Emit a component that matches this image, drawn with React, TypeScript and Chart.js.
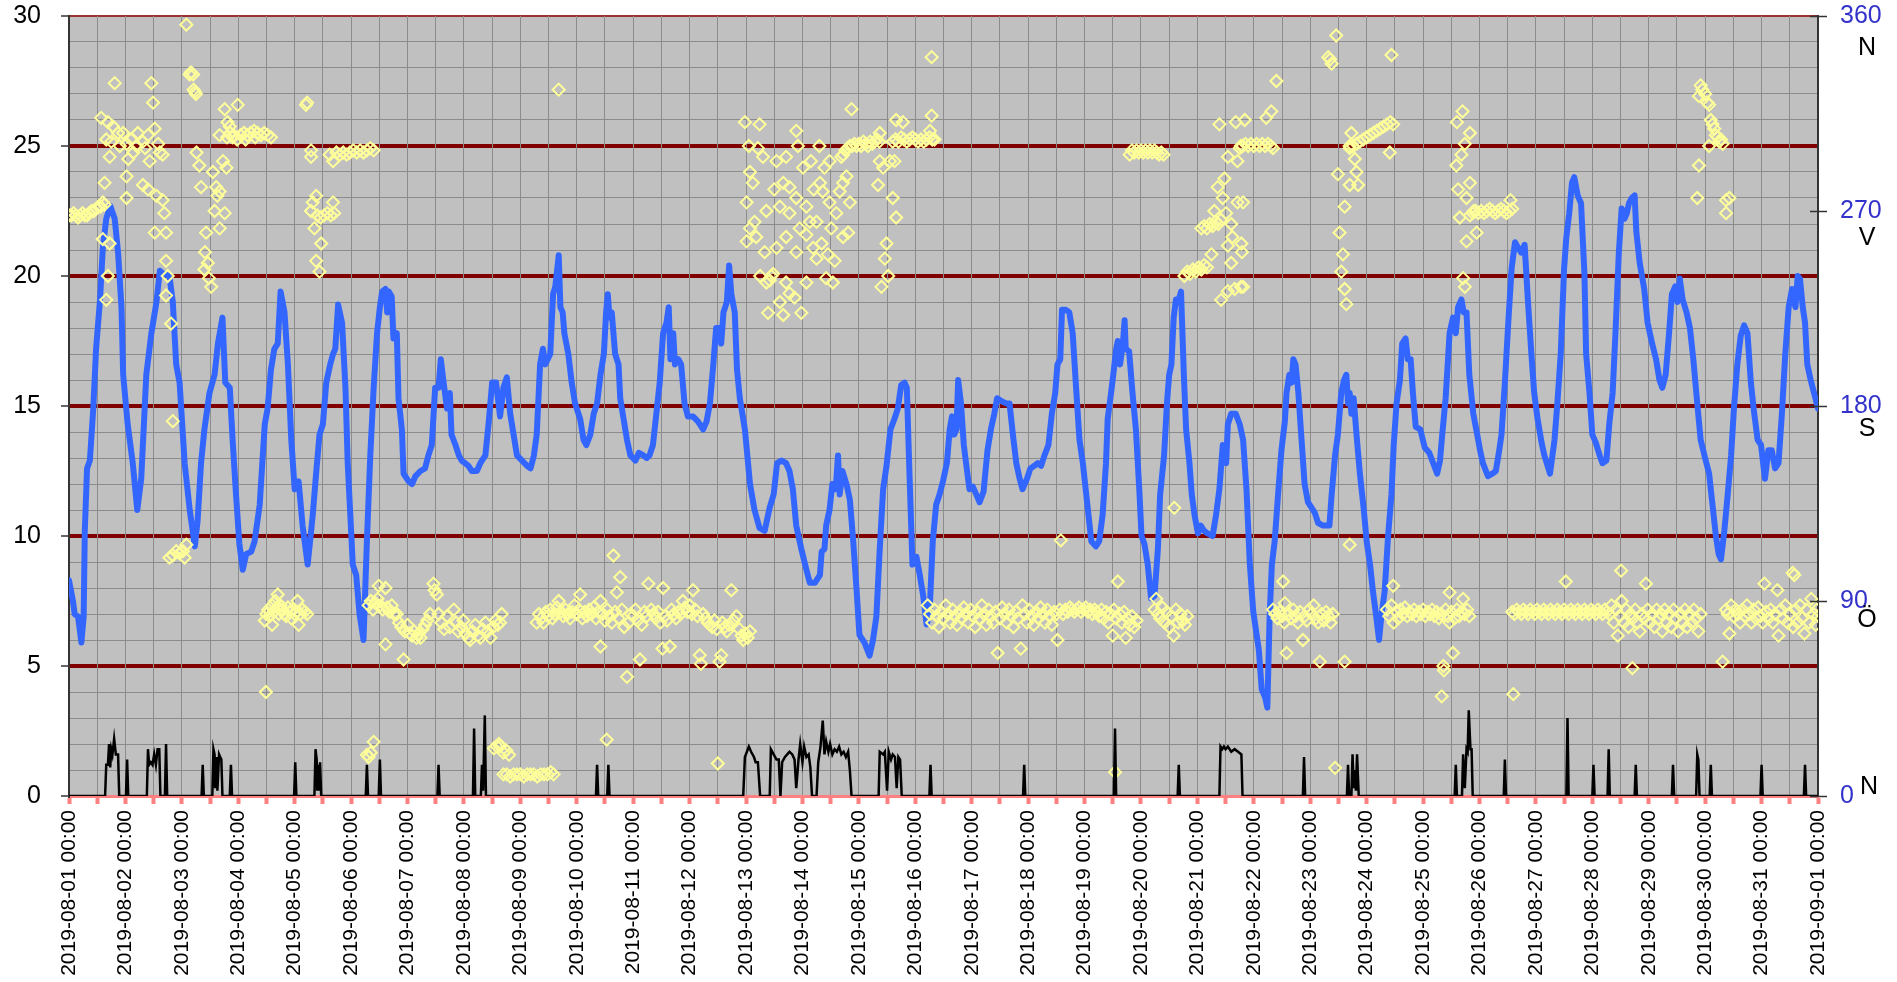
import React, { useEffect, useRef } from 'react';
import { Chart, registerables } from 'chart.js';

Chart.register(...registerables);

// Tick labels
const dayLabels: string[] = [
  '2019-08-01 00:00', '2019-08-02 00:00', '2019-08-03 00:00', '2019-08-04 00:00',
  '2019-08-05 00:00', '2019-08-06 00:00', '2019-08-07 00:00', '2019-08-08 00:00',
  '2019-08-09 00:00', '2019-08-10 00:00', '2019-08-11 00:00', '2019-08-12 00:00',
  '2019-08-13 00:00', '2019-08-14 00:00', '2019-08-15 00:00', '2019-08-16 00:00',
  '2019-08-17 00:00', '2019-08-18 00:00', '2019-08-19 00:00', '2019-08-20 00:00',
  '2019-08-21 00:00', '2019-08-22 00:00', '2019-08-23 00:00', '2019-08-24 00:00',
  '2019-08-25 00:00', '2019-08-26 00:00', '2019-08-27 00:00', '2019-08-28 00:00',
  '2019-08-29 00:00', '2019-08-30 00:00', '2019-08-31 00:00', '2019-09-01 00:00',
];
const directionTicks: number[] = [0, 90, 180, 270, 360];
const compassLetters: string[] = ['N', 'Ö', 'S', 'V', 'N'];

// [day since 2019-08-01 00:00, temperature °C]
const temperature: [number, number][] = [
  [0.00, 8.3], [0.07, 7.5], [0.10, 7.0], [0.16, 6.9], [0.22, 5.9], [0.26, 6.9], [0.28, 10.2], [0.32, 12.6],
  [0.37, 12.9], [0.43, 14.9], [0.48, 17.2], [0.55, 19.1], [0.60, 21.1], [0.66, 22.2], [0.73, 22.7], [0.81, 22.2],
  [0.87, 20.9], [0.93, 18.8], [0.96, 16.2], [1.04, 14.3], [1.13, 12.8], [1.21, 11.0], [1.28, 12.2], [1.37, 16.2],
  [1.46, 17.8], [1.55, 19.0], [1.61, 20.2], [1.66, 20.1], [1.78, 20.0], [1.84, 19.0], [1.90, 16.6], [1.96, 15.9],
  [2.05, 12.8], [2.14, 11.0], [2.23, 9.6], [2.28, 10.6], [2.34, 12.8], [2.40, 14.1], [2.49, 15.5], [2.58, 16.2],
  [2.64, 17.4], [2.72, 18.4], [2.77, 15.9], [2.85, 15.7], [2.90, 13.7], [2.96, 11.6], [3.02, 9.7], [3.08, 8.7],
  [3.14, 9.3], [3.23, 9.4], [3.29, 9.8], [3.38, 11.2], [3.47, 14.3], [3.52, 14.9], [3.58, 16.4], [3.64, 17.2],
  [3.70, 17.4], [3.75, 19.4], [3.82, 18.6], [3.88, 16.6], [3.94, 13.7], [4.00, 11.8], [4.07, 12.1], [4.14, 10.4],
  [4.23, 8.9], [4.32, 10.8], [4.38, 12.4], [4.44, 13.9], [4.50, 14.3], [4.56, 15.9], [4.63, 16.6], [4.68, 17.0],
  [4.72, 17.2], [4.77, 18.9], [4.84, 18.2], [4.90, 15.7], [4.94, 12.8], [5.03, 8.9], [5.09, 8.5], [5.15, 7.0],
  [5.22, 6.0], [5.28, 9.8], [5.34, 13.1], [5.40, 15.7], [5.46, 17.8], [5.51, 18.8], [5.55, 19.4], [5.61, 19.5],
  [5.64, 18.6], [5.67, 19.4], [5.72, 19.2], [5.75, 17.6], [5.81, 17.8], [5.84, 15.3], [5.90, 14.1], [5.93, 12.4],
  [6.02, 12.1], [6.08, 12.0], [6.14, 12.3], [6.23, 12.5], [6.31, 12.6], [6.37, 13.1], [6.43, 13.5], [6.49, 15.7],
  [6.55, 15.7], [6.59, 16.8], [6.64, 15.9], [6.70, 14.9], [6.75, 15.5], [6.78, 13.9], [6.85, 13.5], [6.91, 13.1],
  [6.96, 12.9], [7.02, 12.8], [7.08, 12.7], [7.14, 12.5], [7.23, 12.5], [7.29, 12.8], [7.38, 13.1], [7.44, 14.4],
  [7.50, 15.9], [7.57, 15.9], [7.64, 14.6], [7.70, 15.7], [7.76, 16.1], [7.82, 14.7], [7.88, 13.9], [7.94, 13.1],
  [8.03, 12.9], [8.12, 12.7], [8.18, 12.6], [8.24, 13.1], [8.29, 13.9], [8.35, 16.6], [8.40, 17.2], [8.44, 16.6],
  [8.53, 17.0], [8.58, 19.3], [8.62, 19.6], [8.68, 20.8], [8.71, 18.8], [8.75, 18.6], [8.78, 17.8], [8.85, 17.0],
  [8.91, 15.9], [8.97, 15.1], [9.06, 14.5], [9.12, 13.7], [9.17, 13.5], [9.24, 13.9], [9.30, 14.7], [9.36, 15.1],
  [9.42, 16.2], [9.48, 17.0], [9.52, 18.6], [9.55, 19.3], [9.58, 18.4], [9.62, 18.6], [9.68, 17.0], [9.74, 16.6],
  [9.77, 15.3], [9.83, 14.5], [9.89, 13.7], [9.95, 13.1], [10.04, 12.9], [10.10, 13.2], [10.18, 13.1], [10.24, 13.0],
  [10.29, 13.1], [10.35, 13.5], [10.41, 14.7], [10.47, 15.9], [10.53, 17.8], [10.59, 18.2], [10.63, 18.8], [10.66, 16.8],
  [10.71, 17.8], [10.74, 16.6], [10.80, 16.8], [10.85, 16.6], [10.91, 15.1], [10.97, 14.6], [11.06, 14.6], [11.15, 14.4],
  [11.24, 14.1], [11.30, 14.4], [11.36, 15.1], [11.42, 16.6], [11.47, 18.0], [11.53, 18.0], [11.56, 17.4], [11.60, 18.6],
  [11.66, 19.0], [11.70, 20.4], [11.74, 19.3], [11.80, 18.6], [11.84, 16.4], [11.89, 15.3], [11.98, 14.1], [12.07, 12.0],
  [12.15, 11.0], [12.24, 10.3], [12.33, 10.2], [12.42, 11.1], [12.49, 11.6], [12.55, 12.8], [12.63, 12.9], [12.71, 12.8],
  [12.77, 12.5], [12.83, 11.8], [12.89, 10.4], [12.98, 9.5], [13.07, 8.7], [13.13, 8.2], [13.22, 8.2], [13.31, 8.5],
  [13.34, 9.4], [13.39, 9.5], [13.42, 10.4], [13.48, 11.0], [13.53, 12.0], [13.59, 11.8], [13.63, 13.1], [13.66, 11.6],
  [13.71, 12.5], [13.78, 12.0], [13.84, 11.4], [13.90, 9.8], [13.96, 7.9], [14.01, 6.2], [14.10, 5.9], [14.19, 5.4],
  [14.25, 6.0], [14.31, 6.9], [14.37, 9.5], [14.43, 11.8], [14.49, 12.7], [14.56, 14.1], [14.63, 14.5], [14.69, 14.9],
  [14.75, 15.8], [14.81, 15.9], [14.85, 15.7], [14.90, 12.2], [14.95, 8.9], [15.02, 9.2], [15.08, 8.5], [15.14, 7.7],
  [15.20, 6.6], [15.25, 6.9], [15.31, 9.8], [15.37, 11.2], [15.43, 11.6], [15.49, 12.1], [15.56, 12.8], [15.61, 14.1],
  [15.65, 14.6], [15.69, 13.9], [15.73, 14.1], [15.76, 16.0], [15.81, 15.1], [15.86, 13.5], [15.90, 12.8], [15.96, 11.8],
  [16.02, 11.9], [16.08, 11.6], [16.14, 11.3], [16.21, 11.7], [16.28, 13.3], [16.34, 14.1], [16.40, 14.7], [16.45, 15.3],
  [16.52, 15.2], [16.61, 15.1], [16.67, 15.1], [16.73, 13.9], [16.79, 12.8], [16.85, 12.2], [16.90, 11.8], [16.98, 12.2],
  [17.04, 12.6], [17.11, 12.7], [17.17, 12.8], [17.23, 12.7], [17.29, 13.1], [17.36, 13.5], [17.42, 14.7], [17.48, 15.5],
  [17.52, 16.6], [17.57, 16.8], [17.60, 18.7], [17.67, 18.7], [17.73, 18.6], [17.79, 17.8], [17.85, 15.7], [17.91, 13.7],
  [17.97, 12.8], [18.03, 11.6], [18.12, 9.8], [18.20, 9.6], [18.26, 9.8], [18.32, 10.8], [18.38, 12.8], [18.41, 14.5],
  [18.47, 15.5], [18.52, 16.4], [18.56, 17.2], [18.59, 17.5], [18.63, 16.6], [18.68, 17.4], [18.71, 18.3], [18.73, 17.2],
  [18.79, 17.1], [18.85, 15.5], [18.91, 14.1], [18.97, 11.8], [19.01, 10.0], [19.06, 9.7], [19.12, 8.9], [19.18, 7.6],
  [19.24, 7.7], [19.30, 9.5], [19.34, 11.6], [19.41, 13.1], [19.46, 15.1], [19.50, 16.2], [19.54, 16.6], [19.58, 18.4],
  [19.62, 19.1], [19.66, 19.0], [19.71, 19.4], [19.76, 16.2], [19.80, 14.1], [19.86, 12.8], [19.90, 11.6], [19.95, 10.8],
  [20.01, 10.1], [20.06, 10.4], [20.12, 10.2], [20.18, 10.1], [20.27, 10.0], [20.33, 10.8], [20.39, 11.8], [20.45, 13.5],
  [20.51, 12.8], [20.54, 14.3], [20.60, 14.7], [20.68, 14.7], [20.75, 14.3], [20.81, 13.7], [20.87, 11.8], [20.93, 8.9],
  [20.99, 7.1], [21.05, 6.2], [21.09, 5.6], [21.14, 4.1], [21.20, 3.8], [21.24, 3.4], [21.28, 6.9], [21.32, 8.9],
  [21.37, 9.8], [21.43, 11.6], [21.49, 13.3], [21.55, 14.4], [21.58, 15.5], [21.63, 16.2], [21.67, 15.9], [21.70, 16.8],
  [21.74, 16.6], [21.79, 15.5], [21.84, 13.9], [21.90, 12.0], [21.96, 11.3], [22.02, 11.1], [22.08, 10.9], [22.14, 10.5],
  [22.23, 10.4], [22.34, 10.4], [22.38, 11.6], [22.44, 13.1], [22.49, 13.9], [22.55, 15.5], [22.60, 16.0], [22.64, 16.2],
  [22.67, 15.1], [22.70, 15.5], [22.73, 14.7], [22.77, 15.3], [22.82, 13.9], [22.88, 12.4], [22.95, 11.0], [23.00, 9.8],
  [23.06, 8.9], [23.11, 7.9], [23.17, 6.9], [23.22, 6.0], [23.26, 6.9], [23.32, 7.9], [23.38, 10.0], [23.44, 11.6],
  [23.48, 13.5], [23.53, 15.1], [23.59, 16.0], [23.63, 17.4], [23.69, 17.6], [23.73, 16.8], [23.78, 16.8], [23.82, 15.5],
  [23.87, 14.2], [23.95, 14.1], [24.03, 13.4], [24.11, 13.2], [24.18, 12.8], [24.25, 12.4], [24.30, 12.9], [24.34, 13.9],
  [24.40, 15.3], [24.47, 17.8], [24.53, 18.4], [24.58, 17.8], [24.62, 18.8], [24.68, 19.1], [24.72, 18.6], [24.77, 18.6],
  [24.82, 16.2], [24.89, 14.7], [24.96, 13.9], [25.01, 13.3], [25.06, 12.8], [25.15, 12.3], [25.23, 12.4], [25.29, 12.5],
  [25.35, 13.3], [25.39, 13.9], [25.45, 15.9], [25.51, 18.2], [25.57, 20.3], [25.63, 21.3], [25.68, 21.1], [25.74, 20.9],
  [25.80, 21.2], [25.86, 19.0], [25.92, 17.0], [25.97, 15.5], [26.03, 14.5], [26.10, 13.6], [26.15, 13.1], [26.25, 12.4],
  [26.33, 13.7], [26.38, 15.1], [26.44, 17.0], [26.50, 20.3], [26.54, 21.5], [26.59, 22.4], [26.64, 23.6], [26.68, 23.8],
  [26.74, 23.1], [26.80, 22.8], [26.86, 20.1], [26.89, 17.0], [26.95, 15.5], [27.00, 13.9], [27.06, 13.6], [27.13, 13.1],
  [27.18, 12.8], [27.25, 12.9], [27.30, 14.3], [27.36, 15.5], [27.41, 17.8], [27.47, 20.9], [27.52, 22.6], [27.57, 22.2],
  [27.61, 22.4], [27.65, 22.8], [27.70, 23.0], [27.75, 23.1], [27.78, 21.7], [27.84, 20.5], [27.92, 19.5], [27.98, 18.2],
  [28.06, 17.4], [28.13, 16.8], [28.19, 16.0], [28.24, 15.7], [28.30, 16.2], [28.36, 17.8], [28.41, 19.3], [28.47, 19.6],
  [28.51, 19.0], [28.55, 19.9], [28.60, 19.1], [28.67, 18.6], [28.73, 18.0], [28.79, 16.8], [28.86, 15.1], [28.92, 13.7],
  [29.01, 12.9], [29.07, 12.4], [29.13, 11.2], [29.19, 10.0], [29.24, 9.3], [29.28, 9.1], [29.34, 10.2], [29.40, 11.6],
  [29.46, 13.1], [29.51, 14.9], [29.57, 16.6], [29.63, 17.7], [29.69, 18.1], [29.75, 17.8], [29.81, 15.9], [29.87, 14.7],
  [29.93, 13.7], [29.99, 13.5], [30.06, 12.2], [30.12, 13.3], [30.18, 13.3], [30.24, 12.6], [30.30, 12.8], [30.36, 14.7],
  [30.42, 17.0], [30.48, 18.8], [30.54, 19.5], [30.60, 18.8], [30.64, 20.0], [30.68, 19.9], [30.73, 18.8], [30.77, 18.2],
  [30.81, 16.6], [30.87, 16.0], [30.93, 15.5], [31.00, 14.9],
];

// [day, wind direction in degrees]
const windDirection: [number, number][] = [
  [0.00, 268], [0.04, 268], [0.08, 269], [0.12, 268], [0.16, 267], [0.20, 268], [0.24, 269], [0.28, 268], [0.32, 268],
  [0.36, 269], [0.40, 270], [0.44, 270], [0.48, 271], [0.52, 272], [0.56, 272], [0.60, 274], [0.63, 273],
  [0.57, 313], [0.81, 329], [0.69, 311], [0.78, 309], [0.87, 306], [0.66, 303], [0.72, 295], [0.63, 283], [0.60, 257],
  [0.72, 255], [0.69, 240], [0.66, 229], [0.96, 306], [1.02, 301], [1.05, 294], [1.02, 286], [1.02, 276], [1.10, 303],
  [1.22, 306], [1.31, 302], [1.40, 305], [1.46, 329], [1.49, 320], [1.52, 308], [1.43, 293], [1.31, 282], [1.40, 280],
  [1.55, 277], [1.66, 275], [1.69, 269], [1.52, 260], [1.72, 260], [1.61, 297], [1.66, 296], [1.72, 247], [1.75, 240],
  [1.72, 231], [1.81, 218], [1.84, 173], [1.58, 301], [1.20, 300], [0.90, 300], [0.75, 302], [1.14, 297], [1.35, 299],
  [1.84, 111], [1.90, 113], [1.96, 112], [2.02, 113], [2.05, 110], [2.08, 116], [1.78, 110],
  [2.08, 356], [2.14, 333], [2.16, 334], [2.20, 333], [2.23, 325], [2.25, 324], [2.21, 326],
  [2.26, 297], [2.31, 291], [2.34, 281], [2.43, 260], [2.41, 251], [2.46, 246], [2.52, 235], [2.55, 288], [2.61, 281],
  [2.67, 279], [2.58, 270], [2.67, 262], [2.76, 269], [2.76, 317], [2.99, 319], [2.67, 305], [2.73, 293], [2.79, 290],
  [2.85, 309], [2.90, 304], [2.40, 243], [2.48, 239], [2.63, 277], [2.81, 311],
  [2.80, 304], [2.86, 306], [2.92, 305], [2.98, 303], [3.04, 305], [3.10, 306], [3.16, 305], [3.22, 306], [3.28, 307],
  [3.34, 306], [3.40, 305], [3.46, 306], [3.52, 305], [3.58, 304], [3.13, 303], [3.30, 304],
  [3.47, 81], [3.50, 84], [3.53, 86], [3.56, 83], [3.60, 88], [3.63, 85], [3.66, 90], [3.69, 87], [3.72, 84], [3.75, 88],
  [3.78, 86], [3.82, 84], [3.85, 83], [3.88, 87], [3.91, 85], [3.94, 82], [3.97, 86], [4.00, 84], [4.03, 85], [4.07, 79],
  [4.10, 84], [4.14, 86], [4.18, 85], [4.22, 84], [3.70, 93], [3.60, 79], [4.05, 90], [3.49, 48],
  [4.20, 319], [4.22, 320],
  [4.29, 298], [4.29, 295], [4.32, 274], [4.38, 277], [4.29, 270], [4.47, 255], [4.38, 247], [4.44, 242], [4.68, 274],
  [4.35, 262], [4.40, 268], [4.46, 267], [4.52, 268], [4.58, 269], [4.64, 268], [4.70, 269],
  [4.62, 296], [4.68, 293], [4.74, 297], [4.80, 296], [4.86, 297], [4.92, 296], [4.98, 297], [5.04, 298], [5.10, 297],
  [5.16, 298], [5.22, 297], [5.28, 298], [5.34, 299], [5.40, 298],
  [5.31, 88], [5.35, 90], [5.39, 86], [5.43, 89], [5.47, 91], [5.49, 97], [5.52, 88], [5.56, 86], [5.61, 96], [5.61, 70],
  [5.64, 87], [5.68, 85], [5.72, 88], [5.76, 84], [5.81, 84], [5.85, 80], [5.89, 78], [5.93, 63], [5.95, 76], [6.00, 79],
  [6.04, 75], [6.08, 74], [6.12, 76], [6.16, 73], [6.20, 75], [6.23, 73], [6.27, 77], [6.31, 79], [6.35, 81], [6.40, 84],
  [6.46, 98], [6.48, 95], [6.52, 93], [6.55, 84], [6.60, 80], [6.65, 77], [6.70, 83], [6.75, 78], [6.82, 86], [6.86, 80],
  [6.90, 76], [6.95, 78], [6.99, 81], [7.03, 75], [7.08, 73], [7.11, 72], [7.15, 76], [7.20, 79], [7.25, 74], [7.29, 73],
  [7.33, 77], [7.38, 80], [7.42, 76], [7.47, 73], [7.52, 78], [7.56, 81], [7.60, 79], [7.64, 80], [7.67, 84],
  [5.28, 19], [5.31, 18], [5.35, 20], [5.40, 25],
  [7.53, 22], [7.58, 23], [7.62, 24], [7.64, 23], [7.70, 20], [7.75, 21], [7.80, 19],
  [7.70, 10], [7.76, 10], [7.82, 9], [7.88, 10], [7.94, 10], [8.00, 10], [8.06, 9], [8.12, 10], [8.18, 10], [8.24, 10],
  [8.30, 9], [8.36, 10], [8.42, 10], [8.48, 10], [8.54, 11], [8.59, 10],
  [9.53, 26], [8.68, 326],
  [8.29, 80], [8.33, 84], [8.37, 82], [8.41, 80], [8.45, 85], [8.49, 83], [8.53, 86], [8.57, 82], [8.61, 84], [8.65, 87],
  [8.68, 90], [8.72, 85], [8.76, 83], [8.80, 86], [8.84, 84], [8.88, 82], [8.92, 85], [8.96, 88], [9.00, 84], [9.04, 86],
  [9.06, 93], [9.10, 82], [9.14, 85], [9.18, 83], [9.22, 86], [9.26, 84], [9.30, 87], [9.34, 82], [9.38, 85], [9.42, 90],
  [9.42, 69], [9.46, 84], [9.50, 81], [9.54, 86], [9.58, 83], [9.62, 80], [9.65, 111], [9.68, 85], [9.71, 94], [9.74, 82],
  [9.77, 101], [9.80, 86], [9.84, 78], [9.89, 55], [9.92, 80], [9.96, 84], [10.00, 83], [10.04, 86], [10.08, 81],
  [10.12, 63], [10.15, 79], [10.20, 85], [10.24, 83], [10.27, 98], [10.32, 86], [10.36, 84], [10.40, 82], [10.44, 85],
  [10.48, 80], [10.53, 96], [10.52, 68], [10.56, 83], [10.60, 81], [10.65, 69], [10.68, 86], [10.72, 84], [10.76, 82],
  [10.80, 85], [10.84, 84], [10.88, 90], [10.92, 87], [10.96, 85], [11.00, 88], [11.06, 95], [11.04, 84], [11.10, 86],
  [11.14, 83], [11.18, 65], [11.20, 61], [11.24, 84], [11.28, 82], [11.32, 80], [11.36, 79], [11.40, 78], [11.44, 81],
  [11.48, 77], [11.53, 62], [11.56, 65], [11.58, 80], [11.62, 78], [11.66, 76], [11.70, 79], [11.74, 95], [11.78, 81],
  [11.83, 83], [11.88, 77], [11.92, 74], [11.95, 72], [11.99, 75], [12.03, 73], [12.07, 76],
  [11.50, 15],
  [11.98, 311], [12.24, 310], [12.89, 307], [12.21, 299], [12.30, 295], [12.07, 288], [12.12, 283], [12.01, 274],
  [12.07, 262], [12.01, 256], [12.18, 258], [12.33, 251], [12.36, 237], [12.39, 223], [12.48, 241], [12.54, 253],
  [12.60, 228], [12.66, 222], [12.54, 293], [12.71, 295], [12.66, 283], [12.77, 281], [12.60, 272], [12.77, 269],
  [12.89, 276], [12.71, 258], [12.89, 251], [12.77, 232], [12.71, 237], [12.86, 230], [12.98, 223], [13.07, 237],
  [13.01, 290], [13.07, 272], [13.13, 265], [13.07, 259], [13.19, 253], [13.25, 248], [13.25, 265], [13.34, 255],
  [13.36, 279], [13.31, 283], [13.39, 290], [13.48, 293], [13.42, 239], [13.54, 237], [13.57, 247], [13.51, 262],
  [13.60, 269], [13.66, 279], [13.72, 283], [13.78, 286], [13.84, 274], [13.81, 260], [13.72, 258], [13.69, 295],
  [13.87, 317], [13.48, 274], [12.42, 238], [12.45, 240], [12.92, 300], [13.15, 293], [13.20, 280], [12.50, 280],
  [12.36, 270], [12.15, 265], [12.05, 300], [12.95, 262], [13.30, 300], [13.45, 250], [12.25, 240],
  [13.72, 296], [13.76, 298], [13.80, 299], [13.84, 300], [13.88, 300], [13.92, 301], [13.96, 300], [14.00, 301],
  [14.04, 300], [14.08, 302], [14.12, 301], [14.16, 300], [14.20, 302], [14.24, 301], [14.28, 302], [14.32, 303], [14.36, 302],
  [14.37, 293], [14.34, 282], [14.43, 290], [14.55, 293], [14.49, 255], [14.46, 248], [14.40, 235], [14.52, 240],
  [14.60, 276], [14.66, 267], [14.66, 312], [14.78, 311], [14.37, 306], [14.63, 293],
  [14.60, 302], [14.65, 303], [14.70, 302], [14.75, 304], [14.80, 303], [14.85, 302], [14.90, 303], [14.95, 304],
  [15.00, 303], [15.05, 302], [15.10, 303], [15.15, 302], [15.20, 303], [15.25, 304], [15.30, 303], [15.34, 303],
  [15.29, 341], [15.29, 314], [15.26, 307],
  [15.22, 88], [15.26, 84], [15.30, 80], [15.34, 86], [15.38, 83], [15.42, 78], [15.46, 85], [15.50, 82], [15.54, 88],
  [15.58, 84], [15.62, 80], [15.66, 86], [15.70, 83], [15.74, 79], [15.78, 85], [15.82, 82], [15.86, 87], [15.90, 84],
  [15.94, 80], [15.98, 86], [16.02, 83], [16.06, 78], [16.10, 85], [16.14, 82], [16.18, 88], [16.22, 84], [16.26, 79],
  [16.30, 86], [16.34, 83], [16.38, 80], [16.42, 85], [16.46, 66], [16.50, 82], [16.54, 87], [16.58, 84], [16.62, 80],
  [16.66, 86], [16.70, 83], [16.74, 78], [16.78, 85], [16.82, 82], [16.87, 68], [16.90, 88], [16.94, 84], [16.98, 80],
  [17.02, 86], [17.06, 83], [17.10, 79], [17.14, 85], [17.18, 82], [17.22, 87], [17.26, 84], [17.30, 80], [17.34, 86],
  [17.38, 83], [17.42, 79], [17.46, 85], [17.52, 72], [17.50, 84], [17.58, 118], [17.56, 86], [17.62, 84], [17.66, 86],
  [17.70, 85], [17.74, 87], [17.78, 86], [17.82, 85], [17.86, 86], [17.90, 87], [17.94, 85], [17.98, 86], [18.02, 87],
  [18.06, 85], [18.10, 86], [18.14, 84], [18.18, 86], [18.22, 85], [18.26, 83], [18.30, 86], [18.34, 82], [18.38, 85],
  [18.42, 80], [18.46, 84], [18.50, 74], [18.52, 86], [18.56, 82], [18.59, 99], [18.62, 84], [18.66, 80], [18.70, 85],
  [18.73, 73], [18.76, 82], [18.80, 79], [18.84, 83], [18.88, 78], [18.92, 81],
  [18.80, 296], [18.84, 298], [18.88, 297], [18.92, 298], [18.96, 297], [19.00, 298], [19.04, 297], [19.08, 298],
  [19.12, 297], [19.16, 298], [19.20, 297], [19.24, 298], [19.28, 297], [19.32, 296], [19.36, 297], [19.40, 296],
  [18.54, 11], [19.59, 133],
  [19.24, 86], [19.27, 91], [19.30, 84], [19.34, 82], [19.38, 87], [19.42, 80], [19.46, 85], [19.50, 78], [19.54, 83],
  [19.58, 74], [19.62, 86], [19.66, 80], [19.70, 84], [19.74, 81], [19.78, 79], [19.82, 83],
  [19.77, 240], [19.82, 242], [19.87, 241], [19.92, 243], [19.97, 242], [20.02, 244], [20.07, 243], [20.12, 245], [20.17, 244],
  [20.07, 262], [20.12, 263], [20.17, 262], [20.22, 264], [20.27, 263], [20.32, 265], [20.37, 264], [20.42, 266],
  [20.36, 281], [20.45, 276], [20.51, 269], [20.39, 310], [20.68, 311], [20.60, 264], [20.71, 274], [20.54, 295],
  [20.71, 293], [20.54, 254], [20.60, 246], [20.42, 229], [20.54, 233], [20.66, 234], [20.77, 235], [20.77, 300],
  [20.30, 270], [20.48, 285], [20.62, 258], [20.25, 250],
  [20.75, 299], [20.80, 300], [20.85, 301], [20.90, 300], [20.95, 301], [21.00, 300], [21.05, 301], [21.10, 300],
  [21.15, 301], [21.20, 300], [21.25, 301], [21.30, 300], [21.34, 299],
  [20.84, 312], [21.22, 313], [21.31, 316], [21.40, 330], [20.81, 274], [20.78, 255], [20.79, 251], [20.81, 235],
  [21.34, 86], [21.38, 84], [21.42, 82], [21.46, 85], [21.50, 83], [21.52, 99], [21.54, 80], [21.55, 89], [21.58, 66],
  [21.62, 84], [21.66, 82], [21.70, 86], [21.74, 83], [21.78, 80], [21.82, 85], [21.87, 72], [21.90, 83], [21.94, 81],
  [21.98, 86], [22.02, 84], [22.06, 88], [22.10, 82], [22.14, 80], [22.17, 62], [22.20, 84], [22.24, 81], [22.28, 85],
  [22.32, 83], [22.36, 80], [22.40, 84],
  [22.44, 13], [22.70, 116], [22.61, 62],
  [22.46, 351], [22.32, 341], [22.38, 338], [22.35, 340], [22.73, 306], [22.70, 300], [22.79, 294], [22.82, 288],
  [22.70, 282], [22.85, 282], [22.61, 272], [22.52, 260], [22.55, 242], [22.61, 234], [22.64, 227], [22.49, 287], [22.58, 250],
  [22.70, 299], [22.76, 300], [22.82, 301], [22.88, 302], [22.94, 303], [23.00, 304], [23.06, 305], [23.12, 306],
  [23.18, 307], [23.24, 308], [23.30, 309], [23.36, 310], [23.42, 311], [23.47, 310],
  [23.44, 342], [23.41, 297],
  [23.36, 86], [23.40, 83], [23.44, 88], [23.47, 97], [23.48, 80], [23.52, 85], [23.56, 82], [23.60, 86], [23.64, 84],
  [23.68, 87], [23.72, 83], [23.76, 85], [23.80, 84], [23.84, 86], [23.88, 83], [23.92, 85], [23.96, 84], [24.00, 86],
  [24.04, 83], [24.08, 85], [24.12, 84], [24.16, 86], [24.20, 83], [24.24, 85], [24.28, 82], [24.32, 84], [24.36, 60],
  [24.37, 58], [24.33, 46], [24.40, 86], [24.44, 83], [24.47, 94], [24.47, 80], [24.50, 85], [24.53, 66], [24.56, 82],
  [24.60, 86], [24.64, 83], [24.68, 85], [24.71, 91], [24.74, 84], [24.78, 86], [24.82, 83],
  [24.83, 306], [24.74, 301], [24.59, 291], [24.62, 280], [24.83, 283], [24.77, 276], [24.65, 267], [24.77, 256],
  [24.95, 260], [24.71, 239], [24.74, 235], [24.68, 296], [24.90, 270], [24.60, 311], [24.70, 316],
  [24.83, 268], [24.88, 269], [24.93, 270], [24.98, 269], [25.03, 270], [25.08, 269], [25.13, 270], [25.18, 271],
  [25.23, 270], [25.28, 269], [25.33, 270], [25.38, 271], [25.43, 270], [25.48, 269], [25.53, 270], [25.58, 271], [25.55, 275],
  [25.60, 47],
  [25.58, 85], [25.62, 84], [25.66, 86], [25.70, 85], [25.74, 84], [25.78, 86], [25.82, 85], [25.86, 84], [25.90, 86],
  [25.94, 85], [25.98, 84], [26.02, 86], [26.06, 85], [26.10, 84], [26.14, 86], [26.18, 85], [26.22, 84], [26.26, 86],
  [26.30, 85], [26.34, 84], [26.38, 86], [26.42, 85], [26.46, 84], [26.50, 86], [26.53, 99], [26.54, 85], [26.58, 84],
  [26.62, 86], [26.66, 85], [26.70, 84], [26.74, 86], [26.78, 85], [26.82, 84], [26.86, 86], [26.90, 85], [26.94, 84],
  [26.98, 86], [27.02, 85], [27.06, 84], [27.10, 86], [27.14, 85], [27.18, 84], [27.22, 86], [27.26, 85], [27.30, 84],
  [27.34, 88], [27.38, 80], [27.42, 86], [27.45, 74], [27.48, 83], [27.51, 104], [27.52, 90], [27.56, 80], [27.60, 86],
  [27.64, 78], [27.68, 84], [27.71, 59], [27.72, 82], [27.76, 86], [27.80, 80], [27.84, 76], [27.88, 84], [27.92, 82],
  [27.95, 98], [27.98, 86], [28.02, 80], [28.06, 84], [28.10, 78], [28.14, 86], [28.18, 82], [28.22, 84], [28.24, 76],
  [28.28, 86], [28.32, 80], [28.36, 84], [28.40, 78], [28.44, 86], [28.48, 82], [28.52, 76], [28.56, 84], [28.60, 80],
  [28.64, 86], [28.68, 78], [28.72, 84], [28.76, 80], [28.80, 86], [28.84, 82], [28.88, 76], [28.92, 84],
  [28.95, 326], [28.89, 323], [29.07, 319], [29.10, 312], [29.19, 305], [29.25, 302], [29.07, 300], [28.89, 291],
  [28.86, 276], [29.37, 275], [29.37, 269], [29.43, 276], [28.92, 328], [29.00, 324], [29.04, 320], [29.13, 310],
  [29.16, 308], [29.22, 304], [29.28, 303], [29.31, 301],
  [29.31, 62],
  [29.37, 86], [29.40, 84], [29.43, 75], [29.46, 88], [29.50, 83], [29.54, 86], [29.58, 84], [29.62, 80], [29.66, 86],
  [29.70, 83], [29.74, 88], [29.78, 84], [29.82, 80], [29.86, 86], [29.90, 82], [29.94, 87], [29.98, 83], [30.02, 80],
  [30.05, 98], [30.08, 85], [30.12, 82], [30.16, 86], [30.20, 80], [30.24, 84], [30.28, 95], [30.30, 74], [30.34, 86],
  [30.38, 82], [30.42, 88], [30.46, 80], [30.50, 84], [30.55, 103], [30.58, 102], [30.56, 78], [30.60, 86], [30.64, 80],
  [30.68, 88], [30.72, 82], [30.76, 75], [30.80, 86], [30.84, 80], [30.88, 91], [30.92, 84], [30.96, 79], [31.00, 83], [30.98, 86],
];

// [day, precipitation]
const precipitation: [number, number][] = [
  [0, 0], [0.64, 0], [0.66, 1.2], [0.69, 1.2], [0.71, 2.0], [0.73, 1.1], [0.75, 1.8], [0.77, 1.6], [0.80, 2.2], [0.83, 1.6],
  [0.87, 1.6], [0.89, 0], [1.01, 0], [1.03, 1.4], [1.05, 0],
  [1.38, 0], [1.40, 1.8], [1.42, 1.2], [1.45, 1.3], [1.48, 1.2], [1.51, 1.6], [1.54, 1.2], [1.57, 1.8], [1.60, 1.8],
  [1.62, 0], [1.70, 0], [1.72, 2.0], [1.74, 0],
  [2.35, 0], [2.37, 1.2], [2.39, 0],
  [2.54, 0], [2.56, 1.8], [2.58, 1.6], [2.59, 0.3], [2.62, 1.5], [2.63, 0.2], [2.66, 1.6], [2.70, 1.4], [2.72, 0],
  [2.85, 0], [2.87, 1.2], [2.89, 0],
  [3.99, 0], [4.01, 1.3], [4.03, 0],
  [4.35, 0], [4.37, 1.8], [4.39, 1.4], [4.40, 0.2], [4.42, 1.2], [4.43, 0.2], [4.45, 1.3], [4.47, 0],
  [5.26, 0], [5.28, 1.2], [5.30, 0], [5.49, 0], [5.51, 1.4], [5.53, 0], [6.53, 0], [6.55, 1.2], [6.57, 0],
  [7.16, 0], [7.18, 2.6], [7.20, 0], [7.30, 0], [7.32, 1.2], [7.34, 0.2], [7.37, 3.1], [7.39, 0],
  [9.34, 0], [9.36, 1.2], [9.38, 0], [9.54, 0], [9.56, 1.2], [9.58, 0],
  [11.95, 0], [11.98, 1.5], [12.05, 1.9], [12.09, 1.7], [12.14, 1.5], [12.17, 1.3], [12.21, 1.3], [12.25, 0],
  [12.42, 0], [12.44, 1.8], [12.49, 1.6], [12.54, 1.4], [12.58, 1.4], [12.61, 0], [12.64, 1.3], [12.69, 1.5],
  [12.73, 1.6], [12.77, 1.7], [12.82, 1.6], [12.86, 1.4], [12.89, 0.3], [12.93, 1.4], [12.96, 2.0], [13.00, 1.3],
  [13.03, 1.9], [13.07, 1.5], [13.11, 1.6], [13.14, 1.1], [13.17, 0],
  [13.25, 0], [13.28, 1.3], [13.32, 1.9], [13.36, 2.9], [13.39, 1.6], [13.42, 2.1], [13.46, 1.7], [13.49, 2.0],
  [13.53, 1.6], [13.57, 1.8], [13.61, 1.7], [13.65, 1.9], [13.69, 1.6], [13.73, 1.7], [13.77, 1.5], [13.81, 1.7],
  [13.84, 1.0], [13.87, 0],
  [14.35, 0], [14.37, 1.7], [14.43, 1.6], [14.46, 1.7], [14.50, 0.2], [14.53, 1.7], [14.57, 1.4], [14.60, 1.6],
  [14.64, 1.5], [14.67, 0.3], [14.70, 1.5], [14.73, 1.4], [14.76, 0],
  [15.25, 0], [15.27, 1.2], [15.29, 0], [16.91, 0], [16.93, 1.2], [16.95, 0], [18.52, 0], [18.54, 2.6], [18.56, 0],
  [19.65, 0], [19.67, 1.2], [19.69, 0],
  [20.39, 0], [20.41, 1.9], [20.44, 1.8], [20.47, 1.9], [20.50, 1.8], [20.54, 1.9], [20.60, 1.7], [20.66, 1.8],
  [20.72, 1.7], [20.78, 1.6], [20.80, 0],
  [21.87, 0], [21.89, 1.5], [21.91, 0],
  [22.65, 0], [22.67, 1.2], [22.69, 0], [22.73, 0], [22.75, 1.6], [22.77, 0.3], [22.79, 1.0], [22.81, 0.2], [22.83, 1.6], [22.86, 0],
  [24.56, 0], [24.58, 1.2], [24.60, 0],
  [24.69, 0], [24.71, 1.6], [24.74, 0.3], [24.77, 1.8], [24.79, 1.7], [24.81, 3.3], [24.84, 1.8], [24.86, 1.8], [24.88, 0],
  [25.43, 0], [25.45, 1.4], [25.47, 0], [26.54, 0], [26.56, 3.0], [26.58, 0], [27.00, 0], [27.02, 1.2], [27.04, 0],
  [27.27, 0], [27.29, 1.8], [27.31, 0], [27.75, 0], [27.77, 1.2], [27.79, 0], [28.41, 0], [28.43, 1.2], [28.45, 0],
  [28.84, 0], [28.86, 1.6], [28.88, 1.4], [28.90, 0], [29.08, 0], [29.10, 1.2], [29.12, 0],
  [29.98, 0], [30.00, 1.2], [30.02, 0], [30.75, 0], [30.77, 1.2], [30.79, 0], [31, 0],
];

const FONT = '"Liberation Sans", Arial, Helvetica, sans-serif';

function zeroPadding(s: any) {
  s.paddingTop = 0;
  s.paddingBottom = 0;
  s.paddingLeft = 0;
  s.paddingRight = 0;
}

export default function App() {
  const canvasRef = useRef<HTMLCanvasElement | null>(null);

  useEffect(() => {
    document.body.style.margin = '0';
    document.body.style.overflow = 'hidden';
    const canvas = canvasRef.current;
    if (!canvas) return;
    Chart.defaults.font.family = FONT;

    const background = {
      id: 'plotBackground',
      beforeDraw(chart: any) {
        const { ctx, chartArea: a } = chart;
        ctx.save();
        ctx.fillStyle = '#C0C0C0';
        ctx.fillRect(a.left, a.top, a.right - a.left, a.bottom - a.top);
        ctx.restore();
      },
    };

    const compass = {
      id: 'compassLetters',
      afterDraw(chart: any) {
        const { ctx } = chart;
        const s = chart.scales.y2;
        ctx.save();
        ctx.strokeStyle = '#333333';
        ctx.lineWidth = 1.5;
        directionTicks.forEach((v) => {
          const y = Math.round(s.getPixelForValue(v)) + 0.5;
          ctx.beginPath();
          ctx.moveTo(s.left - 8, y);
          ctx.lineTo(s.left, y);
          ctx.stroke();
        });
        ctx.font = '25px ' + FONT;
        ctx.fillStyle = '#000000';
        ctx.textAlign = 'center';
        ctx.textBaseline = 'middle';
        const offsets = [-9, 19, 23, 27, 32];
        directionTicks.forEach((v, i) => {
          const x = i === 0 ? s.left + 51 : s.left + 49;
          const y = s.getPixelForValue(v) + offsets[i];
          ctx.fillText(compassLetters[i], x, y);
        });
        ctx.restore();
      },
    };

    const chart = new Chart(canvas, {
      type: 'line',
      data: {
        datasets: [
          {
            label: 'Nederbörd',
            data: precipitation.map(([x, y]) => ({ x, y })),
            borderColor: '#000000',
            borderWidth: 2.5,
            pointRadius: 0,
            yAxisID: 'y',
            order: 0,
          },
          {
            label: 'Vindriktning',
            data: windDirection.map(([x, y]) => ({ x, y })),
            showLine: false,
            pointStyle: 'rectRot',
            pointRadius: 6,
            pointBorderWidth: 2,
            pointBorderColor: '#FFFF99',
            pointBackgroundColor: 'rgba(0,0,0,0)',
            borderColor: '#FFFF99',
            yAxisID: 'y2',
            order: 1,
          },
          {
            label: 'Temperatur',
            data: temperature.map(([x, y]) => ({ x, y })),
            borderColor: '#3366FF',
            borderWidth: 6,
            pointRadius: 0,
            borderJoinStyle: 'round',
            borderCapStyle: 'round',
            yAxisID: 'y',
            order: 2,
          },
        ],
      },
      options: {
        animation: false,
        responsive: false,
        devicePixelRatio: 1,
        events: [],
        layout: { padding: { top: 16, left: 0, right: 0, bottom: 0 } },
        plugins: { legend: { display: false }, tooltip: { enabled: false } },
        scales: {
          x: {
            type: 'linear',
            min: 0,
            max: 31,
            afterFit: (s: any) => { s.height = 186; zeroPadding(s); },
            border: { display: true, color: '#FF8080', width: 3 },
            grid: { color: '#8C8C8C', lineWidth: 1, tickColor: '#FF8080', tickWidth: 4, tickLength: 8, z: -1 },
            ticks: {
              stepSize: 0.5,
              autoSkip: false,
              maxRotation: 90,
              minRotation: 90,
              padding: 6,
              color: '#000000',
              font: { size: 21 },
              callback: (v: any) => (Number.isInteger(v) ? dayLabels[v] : ''),
            },
          },
          y: {
            position: 'left',
            min: 0,
            max: 30,
            afterFit: (s: any) => { s.width = 69; zeroPadding(s); },
            border: { display: true, color: '#333333', width: 2 },
            grid: {
              z: -2,
              color: (c: any) => {
                const v = c.tick.value;
                if (v === 0) return 'rgba(0,0,0,0)';
                if (v === 30) return '#9A3030';
                return v % 5 === 0 ? '#800000' : '#8C8C8C';
              },
              lineWidth: (c: any) => {
                const v = c.tick.value;
                if (v === 30) return 2;
                return v % 5 === 0 ? 4 : 1;
              },
              tickColor: (c: any) => (c.tick.value % 5 === 0 ? '#333333' : 'rgba(0,0,0,0)'),
              tickWidth: 1.5,
              tickLength: 8,
            },
            ticks: {
              stepSize: 1,
              autoSkip: false,
              padding: 20,
              color: '#000000',
              font: { size: 25 },
              callback: (v: any) => (v % 5 === 0 ? String(v) : ''),
            },
          },
          y2: {
            position: 'right',
            min: 0,
            max: 360,
            afterFit: (s: any) => { s.width = 79; zeroPadding(s); },
            border: { display: true, color: '#333333', width: 2 },
            grid: { drawOnChartArea: false, tickColor: '#333333', tickLength: 9, tickWidth: 1.5 },
            ticks: { stepSize: 90, padding: 13, color: '#3333CC', font: { size: 25 } },
          },
        },
      } as any,
      plugins: [background, compass],
    });

    return () => chart.destroy();
  }, []);

  return (
    <div style={{ position: 'fixed', left: 0, top: 0, width: 1897, height: 982, background: '#ffffff' }}>
      <canvas ref={canvasRef} width={1897} height={982} style={{ width: 1897, height: 982, display: 'block' }} />
    </div>
  );
}
